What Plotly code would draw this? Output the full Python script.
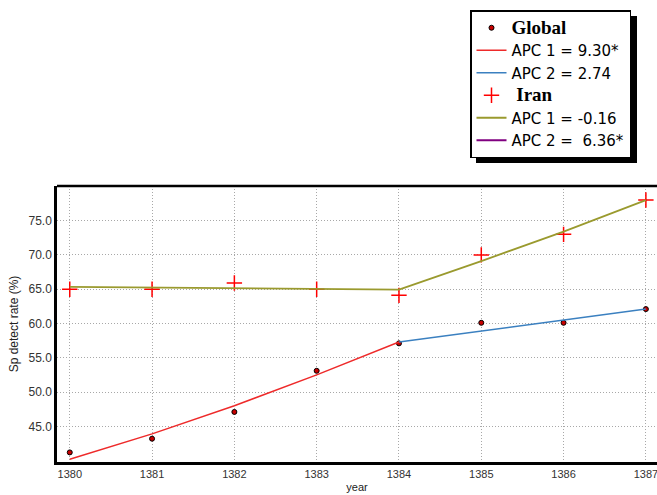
import plotly.graph_objects as go

years = [1380, 1381, 1382, 1383, 1384, 1385, 1386, 1387]
global_obs = [41.2, 43.2, 47.1, 53.1, 57.1, 60.1, 60.1, 62.1]
global_fit = [40.2, 43.9, 48.0, 52.5, 57.3, 58.9, 60.5, 62.1]
iran_obs = [65.0, 65.0, 65.9, 65.0, 64.1, 70.0, 73.0, 78.0]
iran_fit = [65.35, 65.25, 65.15, 65.05, 64.93, 69.1, 73.4, 78.0]
joinpoint = 4  # index of 1384

SERIF = "font-family:'Liberation Serif','Times New Roman',serif;font-weight:bold;font-size:19px"
names = {
    "global": f"<span style=\"{SERIF}\">Global</span>",
    "g1": "APC 1 = 9.30*",
    "g2": "APC 2 = 2.74",
    "iran": f"<span style=\"{SERIF}\"> Iran</span>",
    "i1": "APC 1 = -0.16",
    "i2": "APC 2 =  6.36*",
}

RED = "#ee2a2a"
BLUE = "#3b80c0"
OLIVE = "#9a9a2e"
PURPLE = "#800080"

fig = go.Figure()
fig.add_trace(go.Scatter(x=years, y=global_obs, mode="markers", name=names["global"],
                         marker=dict(color="#c80000", size=5, line=dict(color="black", width=1))))
fig.add_trace(go.Scatter(x=years[:joinpoint + 1], y=global_fit[:joinpoint + 1], mode="lines",
                         name=names["g1"], line=dict(color=RED, width=1.5)))
fig.add_trace(go.Scatter(x=years[joinpoint:], y=global_fit[joinpoint:], mode="lines",
                         name=names["g2"], line=dict(color=BLUE, width=1.5)))
fig.add_trace(go.Scatter(x=years, y=iran_obs, mode="markers", name=names["iran"],
                         marker=dict(symbol="cross-thin", color="red", size=11,
                                     line=dict(color="red", width=1.5))))
fig.add_trace(go.Scatter(x=years[:joinpoint + 1], y=iran_fit[:joinpoint + 1], mode="lines",
                         name=names["i1"], line=dict(color=OLIVE, width=1.8)))
fig.add_trace(go.Scatter(x=years[joinpoint:], y=iran_fit[joinpoint:], mode="lines",
                         showlegend=False, line=dict(color=OLIVE, width=1.8)))
fig.add_trace(go.Scatter(x=[None], y=[None], mode="lines",
                         name=names["i2"], line=dict(color=PURPLE, width=1.8)))

W, H = 657, 495
L, R, T, B = 57, 0, 186, 33
PW = W - L - R
PH = H - T - B

# legend shadow
fig.add_shape(type="rect", xref="paper", yref="paper",
              x0=(476 - L) / PW, x1=(637 - L) / PW,
              y0=(H - B - 163) / PH, y1=(H - B - 16) / PH,
              fillcolor="black", line=dict(width=0), layer="above")

GRID = dict(showgrid=True, gridcolor="#a8a8a8", griddash="1px,2px", gridwidth=1)

fig.update_layout(
    width=W, height=H,
    margin=dict(l=L, r=R, t=T, b=B, autoexpand=False),
    paper_bgcolor="white", plot_bgcolor="white",
    font=dict(family="Liberation Sans, Arial, sans-serif", color="#222", size=12),
    legend=dict(xref="container", yref="container",
                x=470 / W, y=1 - 10 / H, xanchor="left", yanchor="top",
                bgcolor="white", bordercolor="black", borderwidth=1.5,
                font=dict(family="DejaVu Sans, sans-serif", size=15, color="black"),
                tracegroupgap=0, itemwidth=30),
    xaxis=dict(range=[1379.845, 1387.135], tickvals=years, ticktext=[str(y) for y in years],
               **GRID,
               showline=True, linecolor="black", linewidth=2.5, mirror=False,
               ticks="", zeroline=False, automargin=False, ticklabeloverflow="allow",
               title=dict(text="year", font=dict(size=11, color="#222"), standoff=5),
               tickfont=dict(size=11, color="#333")),
    yaxis=dict(range=[39.8, 80.05], tickvals=[45, 50, 55, 60, 65, 70, 75], tickformat=".1f",
               **GRID,
               showline=True, linecolor="black", linewidth=2.5,
               ticks="", zeroline=False, automargin=False,
               title=dict(text="Sp detect rate (%)", font=dict(size=12, color="#222"), standoff=8),
               tickfont=dict(size=12, color="#333")),
)
# top frame line
fig.add_shape(type="line", xref="paper", yref="paper", x0=0, x1=1, y0=1, y1=1,
              line=dict(color="black", width=2.5), layer="above")

fig.write_html("out.html", config={"displayModeBar": False},
               post_script="document.body.style.margin='0';document.body.style.overflow='hidden';")
